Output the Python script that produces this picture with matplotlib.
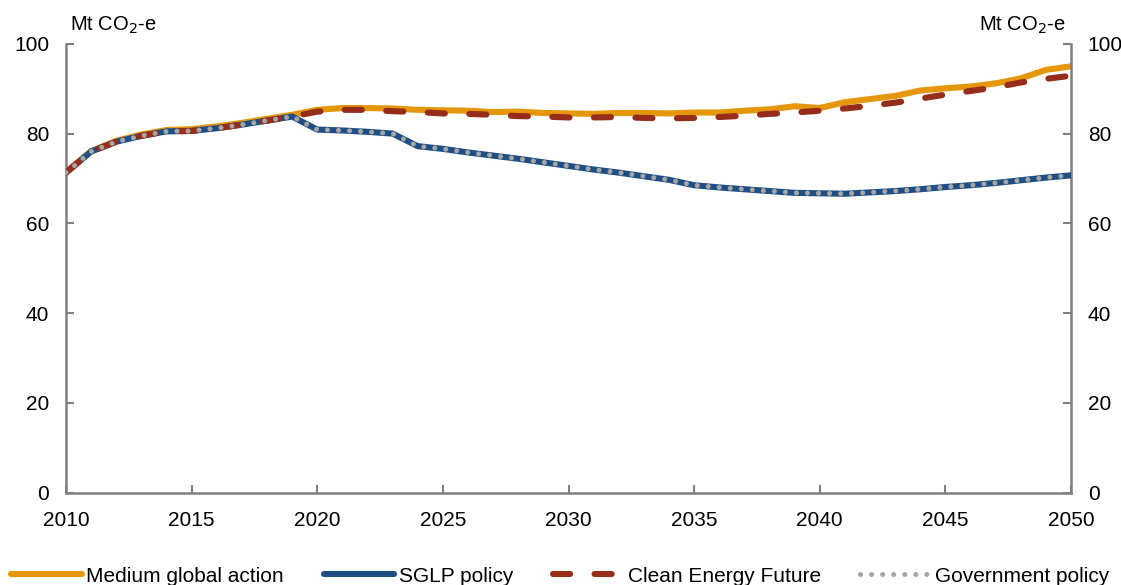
import matplotlib
matplotlib.use('Agg')
import matplotlib.pyplot as plt

plt.rcParams['font.family'] = ['Liberation Sans', 'DejaVu Sans']

# 数据
years = list(range(2010, 2051))
medium_global = [71.5, 76.1, 78.4, 79.8, 80.8, 81.0, 81.6, 82.4, 83.3, 84.2,
                 85.3, 85.7, 85.7, 85.6, 85.3, 85.2, 85.1, 84.8, 84.9, 84.6,
                 84.5, 84.4, 84.6, 84.6, 84.5, 84.7, 84.7, 85.1, 85.4, 86.1,
                 85.7, 87.0, 87.7, 88.4, 89.6, 90.1, 90.5, 91.2, 92.3, 94.2,
                 95.0]
sglp = [71.3, 76.0, 78.2, 79.5, 80.5, 80.6, 81.2, 82.0, 82.9, 83.8,
        80.9, 80.7, 80.4, 80.0, 77.2, 76.6, 75.8, 75.1, 74.4, 73.6,
        72.8, 72.0, 71.3, 70.5, 69.7, 68.5, 68.0, 67.6, 67.2, 66.8,
        66.7, 66.6, 66.9, 67.2, 67.6, 68.1, 68.5, 69.0, 69.6, 70.2,
        70.7]
clean_energy = [71.3, 76.0, 78.2, 79.5, 80.5, 80.6, 81.2, 82.0, 82.9, 83.8,
                84.9, 85.3, 85.3, 85.0, 84.8, 84.5, 84.4, 84.2, 83.9, 83.8,
                83.6, 83.6, 83.7, 83.5, 83.4, 83.5, 83.7, 84.0, 84.4, 84.7,
                85.1, 85.6, 86.2, 86.9, 87.8, 88.7, 89.5, 90.3, 91.4, 92.2,
                92.9]
government = sglp

yticks = [0, 20, 40, 60, 80, 100]
xticks = [2010, 2015, 2020, 2025, 2030, 2035, 2040, 2045, 2050]

fig = plt.figure(figsize=(11.21, 5.85), dpi=100)
ax = fig.add_axes([0.0589, 0.158, 0.8965, 0.767])

ax.plot(years, medium_global, color='#E5960B', lw=4.4, solid_capstyle='round',
        label='Medium global action', zorder=2)
ax.plot(years, sglp, color='#1F4E85', lw=4.4, solid_capstyle='round',
        label='SGLP policy', zorder=3)
ax.plot(years, clean_energy, color='#962D1A', lw=4.4, dashes=(2.8, 4.0),
        dash_capstyle='round', label='Clean Energy Future', zorder=4)
ax.plot(years, government, color='#A6A6A6', lw=3.6, dashes=(0.01, 2.2),
        dash_capstyle='round', label='Government policy', zorder=5)

ax.set_xlim(2010, 2050)
ax.set_ylim(0, 100)
ax.set_xticks(xticks)
ax.set_yticks(yticks)

for side in ['left', 'right', 'bottom']:
    ax.spines[side].set_color('#808080')
    ax.spines[side].set_linewidth(1.8)
ax.spines['top'].set_visible(False)

ax.tick_params(axis='both', direction='in', color='#808080', width=1.5,
               length=6, labelsize=15)
ax.tick_params(axis='y', left=True, right=True, labelleft=True,
               labelright=True, pad=12)
ax.tick_params(axis='x', pad=13)

fig.text(70 / 1121, 1 - 25 / 585, 'Mt CO$_2$-e', fontsize=14.5,
         ha='left', va='center')
fig.text(1066 / 1121, 1 - 25 / 585, 'Mt CO$_2$-e', fontsize=14.5,
         ha='right', va='center')

fig.legend(loc='center', bbox_to_anchor=(0.5, 1 - 576 / 585), ncol=4,
           frameon=False, fontsize=15, handlelength=3.4, handletextpad=0.2,
           columnspacing=1.9, borderaxespad=0)

fig.savefig('out.png', dpi=100)
